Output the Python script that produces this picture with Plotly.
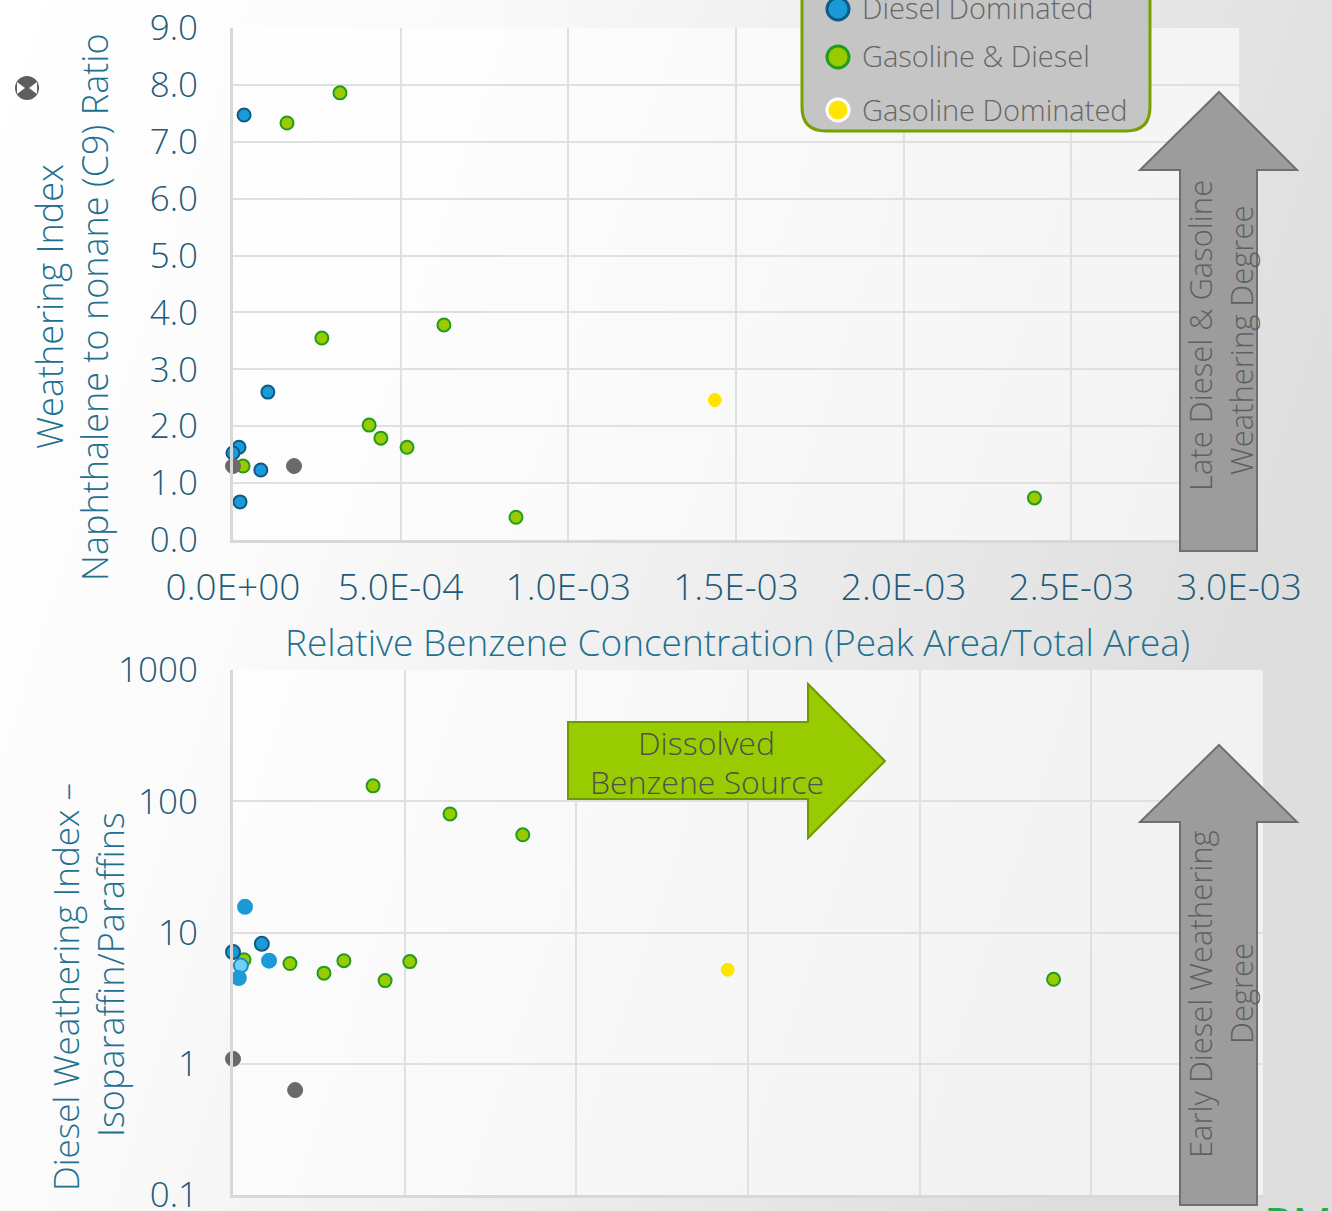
import base64
import plotly.graph_objects as go

# ---------------- data ----------------
X_TICK_VALS = [0.0, 5.0e-4, 1.0e-3, 1.5e-3, 2.0e-3, 2.5e-3, 3.0e-3]
X_TICK_TEXT = ["0.0E+00", "5.0E-04", "1.0E-03", "1.5E-03", "2.0E-03", "2.5E-03", "3.0E-03"]
Y1_TICK_VALS = [0, 1, 2, 3, 4, 5, 6, 7, 8, 9]
Y1_TICK_TEXT = ["0.0", "1.0", "2.0", "3.0", "4.0", "5.0", "6.0", "7.0", "8.0", "9.0"]
Y2_TICK_VALS = [0.1, 1, 10, 100, 1000]
Y2_TICK_TEXT = ["0.1", "1", "10", "100", "1000"]

SERIES_NAMES = ["Diesel Dominated", "Gasoline & Diesel", "Gasoline Dominated"]

# Naphthalene / nonane ratio vs relative benzene
TOP_BLUE_X = [3.3e-5, 1.04e-4, 1.8e-5, 0.0, 8.3e-5, 2.1e-5]
TOP_BLUE_Y = [7.47, 2.60, 1.63, 1.53, 1.23, 0.67]
TOP_GREEN_X = [3.19e-4, 1.61e-4, 2.65e-4, 6.29e-4, 4.06e-4, 4.41e-4, 5.19e-4, 3.0e-5, 8.44e-4, 2.39e-3]
TOP_GREEN_Y = [7.86, 7.33, 3.55, 3.78, 2.02, 1.79, 1.63, 1.30, 0.40, 0.74]
TOP_YELLOW_X = [1.437e-3]
TOP_YELLOW_Y = [2.46]
TOP_GRAY_X = [0.0, 1.82e-4]
TOP_GRAY_Y = [1.30, 1.30]

# Isoparaffin / paraffin ratio vs relative benzene
BOT_BLUE_X = [3.5e-5, 0.0, 8.4e-5, 1.05e-4, 2.3e-5, 1.7e-5]
BOT_BLUE_Y = [15.7, 7.1, 8.2, 6.1, 5.6, 4.5]
BOT_GREEN_X = [4.08e-4, 6.32e-4, 8.44e-4, 3.2e-5, 1.66e-4, 2.65e-4, 3.23e-4, 4.43e-4, 5.15e-4, 2.39e-3]
BOT_GREEN_Y = [131, 80, 55.5, 6.2, 5.8, 4.9, 6.1, 4.3, 6.0, 4.4]
BOT_YELLOW_X = [1.441e-3]
BOT_YELLOW_Y = [5.2]
BOT_GRAY_X = [0.0, 1.81e-4]
BOT_GRAY_Y = [1.09, 0.63]

# ---------------- styling ----------------
W, H = 1332, 1211
FONT = "Open Sans"
TICK_COLOR = "#1f5b79"
TITLE_COLOR = "#22708f"
GRID = "#e0e0e0"
AXLINE = "#d8d8d8"

BLUE = "#1a9ad6"
BLUE_EDGE = "#0d5a87"
LIGHT_BLUE = "#72d0f5"
GREEN = "#99cc00"
GREEN_EDGE = "#239b1e"
YELLOW = "#ffe500"
GRAY = "#6a6a6a"


def px(x):
    return x / W


def py(y):
    return 1 - y / H


def path(points):
    return "M " + " L ".join(f"{px(x):.5f},{py(y):.5f}" for x, y in points) + " Z"


fig = go.Figure()


def add_points(x, y, fill, edge, xa, ya, width=2, size=13):
    fig.add_trace(go.Scatter(
        x=x, y=y, mode="markers", xaxis=xa, yaxis=ya, showlegend=False,
        cliponaxis=False, hoverinfo="skip",
        marker=dict(size=size, color=fill, line=dict(color=edge, width=width)),
    ))


# upper panel
add_points(TOP_GREEN_X, TOP_GREEN_Y, GREEN, GREEN_EDGE, "x", "y")
add_points(TOP_YELLOW_X, TOP_YELLOW_Y, YELLOW, YELLOW, "x", "y", width=1)
add_points(TOP_BLUE_X, TOP_BLUE_Y, BLUE, BLUE_EDGE, "x", "y")
add_points(TOP_GRAY_X, TOP_GRAY_Y, GRAY, GRAY, "x", "y", width=1, size=15)

# lower panel
add_points(BOT_GREEN_X, BOT_GREEN_Y, GREEN, GREEN_EDGE, "x2", "y2")
add_points(BOT_YELLOW_X, BOT_YELLOW_Y, YELLOW, YELLOW, "x2", "y2", width=1)
fig.add_trace(go.Scatter(
    x=BOT_BLUE_X, y=BOT_BLUE_Y, mode="markers", xaxis="x2", yaxis="y2",
    showlegend=False, cliponaxis=False, hoverinfo="skip",
    marker=dict(
        size=14,
        color=[BLUE, BLUE, BLUE, BLUE, LIGHT_BLUE, BLUE],
        line=dict(color=[BLUE, BLUE_EDGE, BLUE_EDGE, BLUE, "#1f8cc4", BLUE], width=2),
    ),
))
add_points(BOT_GRAY_X, BOT_GRAY_Y, GRAY, GRAY, "x2", "y2", width=1, size=15)

axis_common = dict(
    showgrid=True, gridcolor=GRID, gridwidth=2,
    showline=True, linecolor=AXLINE, linewidth=3,
    zeroline=False, ticks="", fixedrange=True, automargin=False,
    ticklabeloverflow="allow",
    tickfont=dict(family=FONT, size=35, color=TICK_COLOR, weight=300),
)

fig.update_layout(
    width=W, height=H,
    margin=dict(l=0, r=0, t=0, b=0, autoexpand=False),
    paper_bgcolor="#ffffff",
    plot_bgcolor="rgba(0,0,0,0)",
    showlegend=False,
    xaxis=dict(axis_common, domain=[px(233), px(1239)], range=[0, 3.0e-3],
               tickvals=X_TICK_VALS, ticktext=X_TICK_TEXT, anchor="y",
               ticklabelstandoff=13,
               tickfont=dict(family=FONT, size=37, color=TICK_COLOR, weight=300)),
    yaxis=dict(axis_common, domain=[py(540), py(28)], range=[0, 9],
               tickvals=Y1_TICK_VALS, ticktext=Y1_TICK_TEXT, anchor="x",
               ticklabelstandoff=25),
    xaxis2=dict(axis_common, domain=[px(233), px(1263)], range=[0, 3.0e-3],
                tickvals=X_TICK_VALS, showticklabels=False, anchor="y2"),
    yaxis2=dict(axis_common, domain=[py(1195), py(670)], type="log", range=[-1, 3],
                tickvals=Y2_TICK_VALS, ticktext=Y2_TICK_TEXT, anchor="x2",
                ticklabelstandoff=25),
)

# slide background: soft left-to-right grey gradient
svg = (
    '<svg xmlns="http://www.w3.org/2000/svg" width="1332" height="1211">'
    '<defs><linearGradient id="g" x1="0" y1="0" x2="1" y2="0.3">'
    '<stop offset="0" stop-color="#ffffff"/>'
    '<stop offset="0.3" stop-color="#fbfbfb"/>'
    '<stop offset="1" stop-color="#dedede"/>'
    '</linearGradient></defs>'
    '<rect width="1332" height="1211" fill="url(#g)"/></svg>'
)
svg_uri = "data:image/svg+xml;base64," + base64.b64encode(svg.encode()).decode()
fig.add_layout_image(dict(
    source=svg_uri, xref="paper", yref="paper", x=0, y=1,
    sizex=1, sizey=1, xanchor="left", yanchor="top",
    sizing="stretch", layer="below",
))

shapes = []
# plot-area panels (lighter than the slide)
shapes.append(dict(type="rect", xref="paper", yref="paper", layer="below",
                   x0=px(233), x1=px(1239), y0=py(540), y1=py(28),
                   fillcolor="rgba(255,255,255,0.6)", line=dict(width=0)))
shapes.append(dict(type="rect", xref="paper", yref="paper", layer="below",
                   x0=px(233), x1=px(1263), y0=py(1195), y1=py(670),
                   fillcolor="rgba(255,255,255,0.6)", line=dict(width=0)))

# gray "weathering degree" arrows
ARROW_GRAY = "#9c9c9c"
ARROW_EDGE = "#6f6f6f"
for tip_y, base_y, foot_y in [(92, 170, 551), (745, 822, 1205)]:
    shapes.append(dict(
        type="path", xref="paper", yref="paper",
        path=path([(1219, tip_y), (1297, base_y), (1257, base_y), (1257, foot_y),
                   (1180, foot_y), (1180, base_y), (1140, base_y)]),
        fillcolor=ARROW_GRAY, line=dict(color=ARROW_EDGE, width=2),
    ))

# green "dissolved benzene" arrow
shapes.append(dict(
    type="path", xref="paper", yref="paper",
    path=path([(885, 761), (808, 838), (808, 799), (568, 799), (568, 722),
               (808, 722), (808, 684)]),
    fillcolor=GREEN, line=dict(color="#6f9a00", width=2),
))

# legend box with rounded corners
lx0, lx1, ly0, ly1, r = 802, 1150, -40, 131, 24
legend_path = (
    f"M {px(lx0):.5f},{py(ly0):.5f} "
    f"L {px(lx0):.5f},{py(ly1 - r):.5f} "
    f"Q {px(lx0):.5f},{py(ly1):.5f} {px(lx0 + r):.5f},{py(ly1):.5f} "
    f"L {px(lx1 - r):.5f},{py(ly1):.5f} "
    f"Q {px(lx1):.5f},{py(ly1):.5f} {px(lx1):.5f},{py(ly1 - r):.5f} "
    f"L {px(lx1):.5f},{py(ly0):.5f} Z"
)
shapes.append(dict(type="path", xref="paper", yref="paper", path=legend_path,
                   fillcolor="#c5c5c5", line=dict(color="#7a9f00", width=3)))

legend_marks = [(9, BLUE, BLUE_EDGE), (57, GREEN, GREEN_EDGE), (110, YELLOW, "#ffffff")]
for cy, fill, edge in legend_marks:
    rr = 11
    shapes.append(dict(type="circle", xref="paper", yref="paper",
                       x0=px(838 - rr), x1=px(838 + rr), y0=py(cy + rr), y1=py(cy - rr),
                       fillcolor=fill, line=dict(color=edge, width=3)))

# small close icon at the top left
shapes.append(dict(type="circle", xref="paper", yref="paper",
                   x0=px(15), x1=px(39), y0=py(100), y1=py(76),
                   fillcolor="#5e5e5e", line=dict(width=0)))
shapes.append(dict(type="path", xref="paper", yref="paper",
                   path=path([(17, 82), (25, 88), (17, 94)]),
                   fillcolor="#ffffff", line=dict(width=0)))
shapes.append(dict(type="path", xref="paper", yref="paper",
                   path=path([(37, 82), (29, 88), (37, 94)]),
                   fillcolor="#ffffff", line=dict(width=0)))

fig.update_layout(shapes=shapes)

annotations = []


def note(text, x, y, size, color, angle=0, xanchor="center", yanchor="middle", weight=300):
    annotations.append(dict(
        text=text, x=px(x), y=py(y), xref="paper", yref="paper",
        xanchor=xanchor, yanchor=yanchor, showarrow=False, textangle=angle,
        font=dict(family=FONT, size=size, color=color, weight=weight),
    ))


# axis titles
note("Relative Benzene Concentration (Peak Area/Total Area)", 737, 641, 37, TITLE_COLOR)
note("Weathering Index", 50, 307, 36, TITLE_COLOR, angle=-90)
note("Naphthalene to nonane (C9) Ratio", 95, 307, 36, TITLE_COLOR, angle=-90)
note("Diesel Weathering Index –", 65, 987, 35, TITLE_COLOR, angle=-90)
note("Isoparaffin/Paraffins", 110, 975, 36, TITLE_COLOR, angle=-90)

# legend labels
for (cy, _, _), name in zip(legend_marks, SERIES_NAMES):
    note(name, 860, cy - 1, 29, "#676767", xanchor="left")

# arrow labels
note("Late Diesel & Gasoline", 1200, 336, 31, "#606060", angle=-90)
note("Weathering Degree", 1241, 341, 31, "#606060", angle=-90)
note("Early Diesel Weathering", 1200, 994, 31, "#606060", angle=-90)
note("Degree", 1241, 994, 31, "#606060", angle=-90)
note("Dissolved", 707, 742, 32, "#505050")
note("Benzene Source", 707, 781, 32, "#505050")

# corner logo letters
note("BM", 1262, 1190, 44, "#2aa84a", xanchor="left", yanchor="top", weight=400)

fig.update_layout(annotations=annotations)

fig.write_html("out.html")
